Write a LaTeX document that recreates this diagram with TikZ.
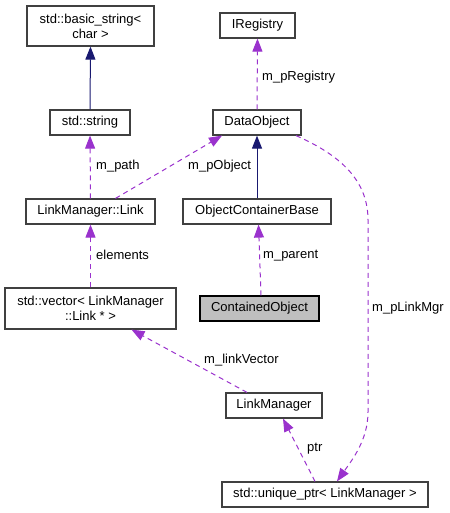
\documentclass[tikz,border=0pt]{standalone}
\usepackage{fontspec}
\setmainfont{Liberation Sans}
\usetikzlibrary{arrows.meta}
\definecolor{edgeP}{HTML}{9A32CD}
\definecolor{edgeN}{HTML}{191970}
\definecolor{boxB}{HTML}{404040}
\definecolor{boxG}{HTML}{BFBFBF}
\tikzset{
  cls/.style={draw=boxB, line width=1.2pt, fill=white, inner sep=0pt, align=center,
    font=\fontsize{13}{15}\selectfont},
  inh/.style={draw=edgeN, line width=1pt, -{Triangle[length=13pt,width=10pt]}},
  use/.style={draw=edgeP, line width=1pt, dash pattern=on 5pt off 4pt, -{Triangle[length=13pt,width=10pt]}},
  lbl/.style={anchor=west, inner sep=0pt, font=\fontsize{13}{15}\selectfont}
}
\begin{document}
\begin{tikzpicture}[x=1pt,y=-1pt]
\useasboundingbox (0,0) rectangle (449,513);
\node[cls, minimum width=127pt, minimum height=40pt] (bstr) at (90.5,26) {std::basic\_string<\\char >};
\node[cls, minimum width=80pt, minimum height=25pt] (sstr) at (90,122.5) {std::string};
\node[cls, minimum width=75pt, minimum height=25pt] (ireg) at (257.5,25.5) {IRegistry};
\node[cls, minimum width=88pt, minimum height=25pt] (dobj) at (257,122.5) {DataObject};
\node[cls, minimum width=129pt, minimum height=25pt] (link) at (90.5,211.5) {LinkManager::Link};
\node[cls, minimum width=148pt, minimum height=25pt] (ocb) at (257,211.5) {ObjectContainerBase};
\node[cls, minimum width=171pt, minimum height=41pt] (vec) at (90.5,308.5) {std::vector< LinkManager\\::Link * >};
\node[cls, fill=boxG, draw=black, minimum width=119pt, minimum height=25pt] (cont) at (259.5,308.5) {ContainedObject};
\node[cls, minimum width=96pt, minimum height=25pt] (lm) at (274,405.5) {LinkManager};
\node[cls, minimum width=206pt, minimum height=25pt] (uptr) at (325,494.5) {std::unique\_ptr< LinkManager >};

\draw[inh] (sstr.north) -- (bstr.south);
\draw[inh] (ocb.north) -- (dobj.south);
\draw[use] (link.north) -- (sstr.south);
\node[lbl] (lpath) at (96,166) {m\_path};
\draw[use] ([xshift=25pt]link.north) -- ([xshift=-35pt]dobj.south);
\node[lbl] (lpobj) at (188,166) {m\_pObject};
\draw[use] (dobj.north) -- (ireg.south);
\node[lbl] (lreg) at (262,77) {m\_pRegistry};
\draw[use] ([xshift=1.5pt]cont.north) -- ([xshift=1.5pt]ocb.south);
\node[lbl] (lpar) at (263,256) {m\_parent};
\draw[use] (vec.north) -- (link.south);
\node[lbl] (lel) at (96,255) {elements};
\draw[use] ([xshift=-27pt]lm.north) -- ([xshift=41pt]vec.south);
\node[lbl] (llv) at (204,360) {m\_linkVector};
\draw[use] ([xshift=-10pt]uptr.north) -- ([xshift=9pt]lm.south);
\node[lbl] (lptr) at (307,449) {ptr};
\draw[use] ([xshift=39pt]dobj.south) .. controls (340,155) and (368,180) .. (368,220) -- (368,412) .. controls (368,440) and (352,460) .. ([xshift=12pt]uptr.north);
\node[lbl] (lmgr) at (372,308) {m\_pLinkMgr};
\end{tikzpicture}
\end{document}
